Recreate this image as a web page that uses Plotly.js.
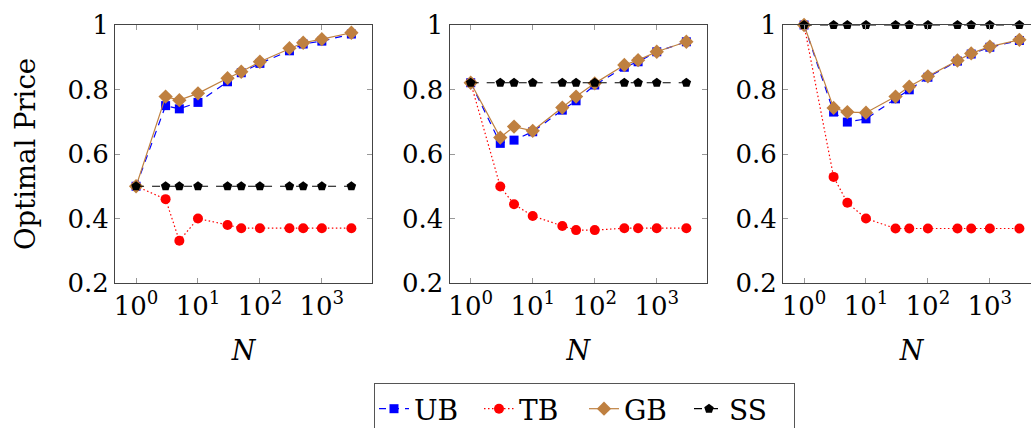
<!DOCTYPE html>
<html>
<head>
<meta charset="utf-8">
<script src="https://cdn.plot.ly/plotly-3.0.1.min.js"></script>
<style>
html,body{margin:0;padding:0;overflow:hidden;background:#fff;}
#chart{width:1045px;height:440px;}
</style>
</head>
<body>
<div id="chart"></div>
<script>
// ---- data ----
const N = [1, 3, 5, 10, 30, 50, 100, 300, 500, 1000, 3000];

const ub1 = [0.50, 0.750, 0.740, 0.760, 0.824, 0.852, 0.881, 0.920, 0.941, 0.950, 0.972];
const tb1 = [0.50, 0.460, 0.331, 0.400, 0.380, 0.370, 0.370, 0.370, 0.370, 0.370, 0.370];
const gb1 = [0.50, 0.778, 0.767, 0.788, 0.835, 0.855, 0.886, 0.928, 0.945, 0.956, 0.976];
const ss1 = [0.50, 0.50, 0.50, 0.50, 0.50, 0.50, 0.50, 0.50, 0.50, 0.50, 0.50];

const ub2 = [0.821, 0.633, 0.643, 0.669, 0.736, 0.765, 0.814, 0.869, 0.886, 0.917, 0.948];
const tb2 = [0.821, 0.499, 0.444, 0.408, 0.377, 0.364, 0.364, 0.370, 0.370, 0.370, 0.370];
const gb2 = [0.821, 0.651, 0.685, 0.672, 0.744, 0.778, 0.819, 0.876, 0.891, 0.917, 0.948];
const ss2 = [0.821, 0.821, 0.821, 0.821, 0.821, 0.821, 0.821, 0.821, 0.821, 0.821, 0.821];

const ub3 = [1.0, 0.730, 0.699, 0.709, 0.771, 0.799, 0.838, 0.888, 0.910, 0.931, 0.952];
const tb3 = [1.0, 0.529, 0.449, 0.400, 0.369, 0.369, 0.369, 0.369, 0.369, 0.369, 0.369];
const gb3 = [1.0, 0.743, 0.730, 0.728, 0.778, 0.809, 0.841, 0.890, 0.912, 0.933, 0.954];
const ss3 = [1.0, 1.0, 1.0, 1.0, 1.0, 1.0, 1.0, 1.0, 1.0, 1.0, 1.0];

const xTickVals = [1, 10, 100, 1000];
const xTickText = ['10<sup>0</sup>', '10<sup>1</sup>', '10<sup>2</sup>', '10<sup>3</sup>'];
const yTickVals = [0.2, 0.4, 0.6, 0.8, 1];
const yTickText = ['0.2', '0.4', '0.6', '0.8', '1'];
const seriesNames = ['UB', 'TB', 'GB', 'SS'];

// ---- styles ----
const W = 1045, H = 440;
const FONT = 'DejaVu Serif';
const styles = {
  UB: {line: {color: '#0000ff', width: 1.2, dash: '7px,6px'}, marker: {symbol: 'square', size: 9, color: '#0000ff'}},
  TB: {line: {color: '#ff0000', width: 1.2, dash: '1.5px,2.5px'}, marker: {symbol: 'circle', size: 10, color: '#ff0000'}},
  GB: {line: {color: '#bf8040', width: 1.2}, marker: {symbol: 'diamond', size: 11, color: '#bf8040'}},
  SS: {line: {color: '#000000', width: 1.2, dash: '8px,8px'}, marker: {symbol: 'pentagon', size: 10, color: '#000000'}}
};

const panels = [
  {ub: ub1, tb: tb1, gb: gb1, ss: ss1},
  {ub: ub2, tb: tb2, gb: gb2, ss: ss2},
  {ub: ub3, tb: tb3, gb: gb3, ss: ss3}
];

const traces = [];
panels.forEach((p, i) => {
  const ax = i === 0 ? '' : String(i + 1);
  const ys = [p.ub, p.tb, p.gb, p.ss];
  seriesNames.forEach((nm, k) => {
    traces.push({
      x: N, y: ys[k], name: nm, type: 'scatter', mode: 'lines+markers',
      xaxis: 'x' + ax, yaxis: 'y' + ax, cliponaxis: false,
      line: styles[nm].line, marker: styles[nm].marker,
      showlegend: i === 0, legendgroup: nm
    });
  });
});

const xPix = [[115, 372], [449.6, 707], [783, 1040]];
const yDom = [1 - 283 / H, 1 - 25 / H];

const layout = {
  width: W, height: H,
  margin: {l: 0, r: 0, t: 0, b: 0},
  paper_bgcolor: '#fff', plot_bgcolor: '#fff',
  font: {family: FONT, size: 26, color: '#000'},
  showlegend: true,
  legend: {
    orientation: 'h', x: 374 / W, xanchor: 'left', y: 1 - 383 / H, yanchor: 'top',
    bordercolor: '#555', borderwidth: 1, bgcolor: '#fff',
    font: {family: FONT, size: 28, color: '#000'},
    entrywidth: 60, entrywidthmode: 'pixels',
    itemwidth: 30, tracegroupgap: 0
  }
};

xPix.forEach((px, i) => {
  const s = i === 0 ? '' : String(i + 1);
  layout['xaxis' + s] = {
    type: 'log', domain: [px[0] / W, px[1] / W], range: [-0.34, 3.81],
    anchor: 'y' + s,
    tickvals: xTickVals, ticktext: xTickText,
    ticks: 'inside', ticklen: 5, tickcolor: '#999', tickwidth: 1,
    showline: true, linecolor: '#444', linewidth: 1, mirror: 'ticks',
    showgrid: false, zeroline: false, automargin: false,
    tickfont: {family: FONT, size: 26},
    title: {text: '<i>N</i>', font: {family: FONT, size: 27}, standoff: 20}
  };
  layout['yaxis' + s] = {
    domain: yDom, range: [0.2, 1], anchor: 'x' + s,
    tickvals: yTickVals, ticktext: yTickText,
    ticks: 'inside', ticklen: 5, tickcolor: '#999', tickwidth: 1,
    showline: true, linecolor: '#444', linewidth: 1, mirror: 'ticks',
    showgrid: false, zeroline: false, automargin: false,
    tickfont: {family: FONT, size: 26},
    title: i === 0 ? {text: 'Optimal Price', font: {family: FONT, size: 27.5}, standoff: 23} : {text: ''}
  };
});

Plotly.newPlot('chart', traces, layout, {displayModeBar: false, staticPlot: true});
</script>
</body>
</html>
